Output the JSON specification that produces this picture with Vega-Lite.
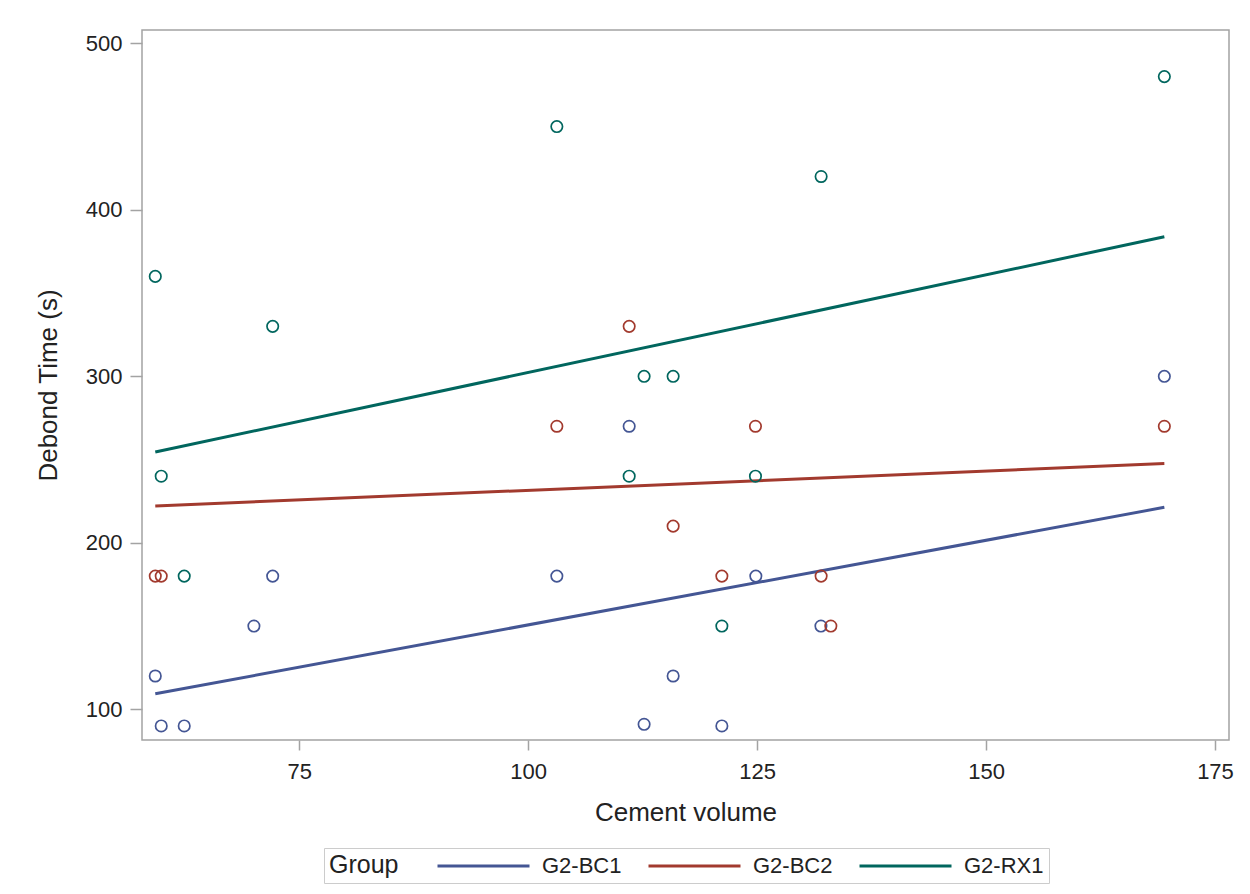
{
  "$schema": "https://vega.github.io/schema/vega-lite/v6.json",
  "width": 1087,
  "height": 710,
  "autosize": {"type": "none"},
  "padding": {"left": 142, "top": 30, "right": 21, "bottom": 154},
  "background": "white",
  "config": {
    "font": "Liberation Sans",
    "view": {"stroke": "#a3a3a3", "strokeWidth": 1.5},
    "axis": {
      "domain": false,
      "grid": false,
      "tickColor": "#a3a3a3",
      "tickWidth": 1.5,
      "labelFontSize": 22,
      "labelColor": "#222222",
      "titleFontSize": 26,
      "titleFontWeight": "normal",
      "titleColor": "#222222",
      "labelFlush": false,
      "labelOverlap": false
    }
  },
  "datasets": {
    "points": [
      {"group": "G2-BC1", "volume": 59.28, "time": 120},
      {"group": "G2-BC1", "volume": 59.93, "time": 90},
      {"group": "G2-BC1", "volume": 62.44, "time": 90},
      {"group": "G2-BC1", "volume": 70.05, "time": 150},
      {"group": "G2-BC1", "volume": 72.1, "time": 180},
      {"group": "G2-BC1", "volume": 103.13, "time": 180},
      {"group": "G2-BC1", "volume": 111.03, "time": 270},
      {"group": "G2-BC1", "volume": 112.66, "time": 91},
      {"group": "G2-BC1", "volume": 115.83, "time": 120},
      {"group": "G2-BC1", "volume": 121.15, "time": 90},
      {"group": "G2-BC1", "volume": 124.86, "time": 180},
      {"group": "G2-BC1", "volume": 131.97, "time": 150},
      {"group": "G2-BC1", "volume": 169.47, "time": 300},
      {"group": "G2-BC2", "volume": 59.28, "time": 180},
      {"group": "G2-BC2", "volume": 59.93, "time": 180},
      {"group": "G2-BC2", "volume": 103.13, "time": 270},
      {"group": "G2-BC2", "volume": 111.03, "time": 330},
      {"group": "G2-BC2", "volume": 115.83, "time": 210},
      {"group": "G2-BC2", "volume": 121.15, "time": 180},
      {"group": "G2-BC2", "volume": 124.82, "time": 270},
      {"group": "G2-BC2", "volume": 131.99, "time": 180},
      {"group": "G2-BC2", "volume": 133.05, "time": 150},
      {"group": "G2-BC2", "volume": 169.47, "time": 270},
      {"group": "G2-RX1", "volume": 59.28, "time": 360},
      {"group": "G2-RX1", "volume": 59.93, "time": 240},
      {"group": "G2-RX1", "volume": 62.44, "time": 180},
      {"group": "G2-RX1", "volume": 72.1, "time": 330},
      {"group": "G2-RX1", "volume": 103.13, "time": 450},
      {"group": "G2-RX1", "volume": 111.03, "time": 240},
      {"group": "G2-RX1", "volume": 112.66, "time": 300},
      {"group": "G2-RX1", "volume": 115.83, "time": 300},
      {"group": "G2-RX1", "volume": 121.15, "time": 150},
      {"group": "G2-RX1", "volume": 124.82, "time": 240},
      {"group": "G2-RX1", "volume": 131.99, "time": 420},
      {"group": "G2-RX1", "volume": 169.47, "time": 480}
    ],
    "fits": [
      {"group": "G2-BC1", "volume": 59.28, "fit": 109.3},
      {"group": "G2-BC1", "volume": 169.47, "fit": 221.3},
      {"group": "G2-BC2", "volume": 59.28, "fit": 222.1},
      {"group": "G2-BC2", "volume": 169.47, "fit": 247.6},
      {"group": "G2-RX1", "volume": 59.28, "fit": 254.5},
      {"group": "G2-RX1", "volume": 169.47, "fit": 383.8}
    ]
  },
  "layer": [
    {
      "data": {"name": "fits"},
      "mark": {"type": "line", "strokeWidth": 3},
      "encoding": {
        "x": {
          "field": "volume", "type": "quantitative",
          "scale": {"domain": [57.83, 176.53], "nice": false, "zero": false},
          "axis": {"values": [75, 100, 125, 150, 175], "tickSize": 10, "labelPadding": 11, "titlePadding": 17, "title": "Cement volume"}
        },
        "y": {
          "field": "fit", "type": "quantitative",
          "scale": {"domain": [81.56, 508], "nice": false, "zero": false},
          "axis": {"values": [100, 200, 300, 400, 500], "tickSize": 12, "labelPadding": 8, "titlePadding": 24, "title": "Debond Time (s)"}
        },
        "color": {
          "field": "group", "type": "nominal",
          "scale": {"domain": ["G2-BC1", "G2-BC2", "G2-RX1"], "range": ["#445694", "#A23A2E", "#01665E"]},
          "legend": {
            "orient": "none", "legendX": 182, "legendY": 818,
            "direction": "horizontal",
            "title": "Group", "titleOrient": "left", "titleFontSize": 25, "titleFontWeight": "normal", "titleColor": "#222222", "titlePadding": 37,
            "titleBaseline": "middle",
            "labelFontSize": 22, "labelColor": "#222222", "labelOffset": 80,
            "columnPadding": 20,
            "symbolType": "M-1,0H7", "symbolSize": 529, "symbolStrokeWidth": 3, "symbolFillColor": "transparent",
            "padding": 5, "strokeColor": "#cccccc", "fillColor": "white"
          }
        },
        "detail": {"field": "group"}
      }
    },
    {
      "data": {"name": "points"},
      "mark": {"type": "point", "shape": "circle", "filled": false, "size": 130, "strokeWidth": 1.7, "opacity": 1},
      "encoding": {
        "x": {"field": "volume", "type": "quantitative"},
        "y": {"field": "time", "type": "quantitative"},
        "color": {"field": "group", "type": "nominal", "legend": null}
      }
    }
  ]
}
